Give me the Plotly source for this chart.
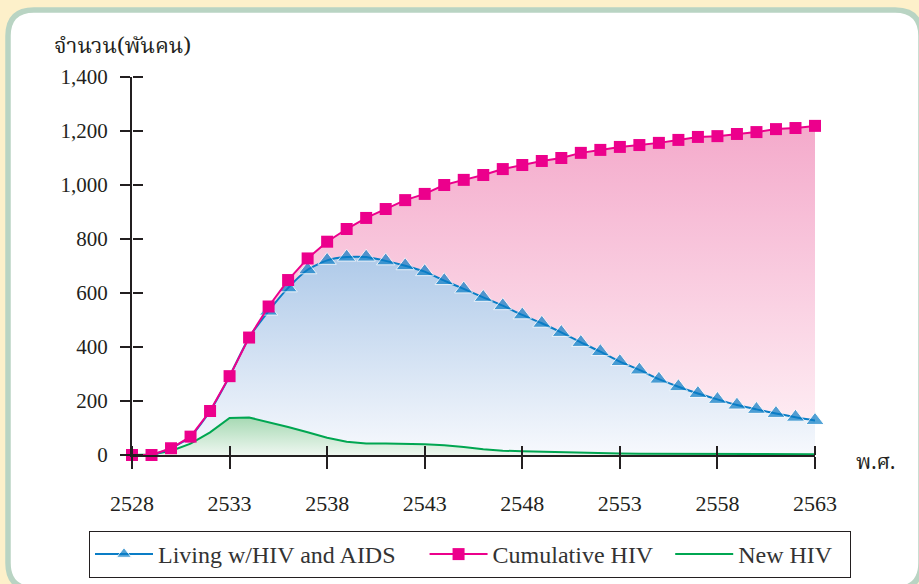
import plotly.graph_objects as go

years = list(range(2528, 2564))

cumulative_hiv = [0, 0, 25, 68, 163, 292, 435, 550, 648, 728, 790, 837, 878, 911,
                  944, 967, 1000, 1019, 1037, 1059, 1074, 1089, 1100, 1119, 1130,
                  1141, 1148, 1156, 1167, 1178, 1181, 1189, 1196, 1207, 1211, 1219]

living_hiv_aids = [0, 0, 25, 68, 163, 292, 435, 533, 619, 686, 721, 733, 733, 719,
                   701, 679, 646, 615, 584, 553, 519, 488, 454, 417, 383, 346,
                   315, 281, 253, 228, 206, 185, 169, 154, 140, 128]

new_hiv = [0, 2, 15, 42, 84, 137, 139, 122, 104, 84, 64, 49, 43, 43, 42, 40, 36,
           30, 21, 16, 14, 12, 10, 8, 7, 6, 5, 5, 4, 4, 4, 3, 3, 3, 3, 3]

living_marker_start = 2535

x_tickvals = [2528, 2533, 2538, 2543, 2548, 2553, 2558, 2563]
y_tickvals = [0, 200, 400, 600, 800, 1000, 1200, 1400]
y_ticktext = ["0", "200", "400", "600", "800", "1,000", "1,200", "1,400"]

y_title = "จำนวน(พันคน)"
x_title = "พ.ศ."
legend_names = ["Living w/HIV and AIDS", "Cumulative HIV", "New HIV"]
NB = "\u00a0"
legend_pad = [4, 2, 2]

BLUE = "#0A7DC6"
PINK = "#EC008C"
GREEN = "#00A651"
TEXT = "#231F20"
SERIF = "Liberation Serif"
THAI = "Norasi, Noto Serif Thai, Noto Sans Thai, Loma, Garuda, Tlwg Typo, serif"

fig = go.Figure()

# fills (behind)
fig.add_trace(go.Scatter(
    x=years, y=cumulative_hiv, mode="none", fill="tozeroy",
    fillgradient=dict(type="vertical", start=0, stop=max(cumulative_hiv),
                      colorscale=[[0, "#FFF3F7"], [1, "#F4AACB"]]),
    showlegend=False, hoverinfo="skip"))
fig.add_trace(go.Scatter(
    x=years, y=living_hiv_aids, mode="none", fill="tozeroy",
    fillgradient=dict(type="vertical", start=0, stop=max(living_hiv_aids),
                      colorscale=[[0, "#F7F9FD"], [1, "#AFCAE9"]]),
    showlegend=False, hoverinfo="skip"))
fig.add_trace(go.Scatter(
    x=years, y=new_hiv, mode="none", fill="tozeroy",
    fillgradient=dict(type="vertical", start=0, stop=max(new_hiv),
                      colorscale=[[0, "#EEF7F0"], [1, "#A6D9B3"]]),
    showlegend=False, hoverinfo="skip"))

# lines
fig.add_trace(go.Scatter(
    x=years, y=new_hiv, mode="lines", name=legend_names[2] + NB * legend_pad[2],
    line=dict(color=GREEN, width=2), cliponaxis=False, legendrank=3))
living_sizes = [16 if y >= living_marker_start else 0 for y in years]
fig.add_trace(go.Scatter(
    x=years, y=living_hiv_aids, mode="lines+markers",
    name=legend_names[0] + NB * legend_pad[0],
    line=dict(color=BLUE, width=2, shape="spline", smoothing=0.6),
    marker=dict(symbol="triangle-up", size=living_sizes, color=BLUE),
    cliponaxis=False, legendrank=1))
fig.add_trace(go.Scatter(
    x=years, y=cumulative_hiv, mode="lines+markers",
    name=legend_names[1] + NB * legend_pad[1],
    line=dict(color=PINK, width=2),
    marker=dict(symbol="square", size=12, color=PINK),
    cliponaxis=False, legendrank=2))

# invisible trace for the extra axes (inner half of the crossing ticks)
fig.add_trace(go.Scatter(x=[2528], y=[0], xaxis="x2", yaxis="y2", mode="markers",
                         marker=dict(opacity=0), showlegend=False,
                         hoverinfo="skip"))

L, T = 132, 77
W, H = 683, 378
FW, FH = 919, 584


def px(xp):
    return (xp - L) / W


def py(yp):
    return (T + H - yp) / H


# rounded frame
x0, x1, y0, y1, r = 8, 921, 10, 589, 26
path = (f"M {px(x0)},{py(y0 + r)} "
        f"Q {px(x0)},{py(y0)} {px(x0 + r)},{py(y0)} "
        f"L {px(x1 - r)},{py(y0)} "
        f"Q {px(x1)},{py(y0)} {px(x1)},{py(y0 + r)} "
        f"L {px(x1)},{py(y1 - r)} "
        f"Q {px(x1)},{py(y1)} {px(x1 - r)},{py(y1)} "
        f"L {px(x0 + r)},{py(y1)} "
        f"Q {px(x0)},{py(y1)} {px(x0)},{py(y1 - r)} Z")
fig.add_shape(type="path", path=path, xref="paper", yref="paper",
              line=dict(color="#B9D4C3", width=5.5), fillcolor="white",
              layer="below")

axis_common = dict(showgrid=False, zeroline=False, automargin=False)
fig.update_layout(
    width=FW, height=FH,
    margin=dict(l=L, r=FW - L - W, t=T, b=FH - T - H, autoexpand=False),
    paper_bgcolor="#FDF0CA",
    plot_bgcolor="rgba(0,0,0,0)",
    font=dict(family=SERIF, color=TEXT),
    xaxis=dict(range=[2528, 2563], tickvals=x_tickvals,
               showline=True, linecolor="#231F20", linewidth=2,
               ticks="outside", ticklen=12, tickwidth=2, tickcolor="#231F20",
               tickfont=dict(size=22, family=SERIF, color=TEXT),
               ticklabelstandoff=16, **axis_common),
    yaxis=dict(range=[0, 1400], tickvals=y_tickvals, ticktext=y_ticktext,
               showline=True, linecolor="#231F20", linewidth=2,
               ticks="outside", ticklen=10, tickwidth=2, tickcolor="#231F20",
               tickfont=dict(size=21, family=SERIF, color=TEXT),
               ticklabelstandoff=8, **axis_common),
    xaxis2=dict(range=[2528, 2563], tickvals=x_tickvals, overlaying="x",
                anchor="free", position=0, side="top", ticks="outside",
                ticklen=9, tickwidth=2, tickcolor="#231F20",
                showticklabels=False, showline=False, **axis_common),
    yaxis2=dict(range=[0, 1400], tickvals=y_tickvals, overlaying="y",
                anchor="free", position=0, side="right", ticks="outside",
                ticklen=10, tickwidth=2, tickcolor="#231F20",
                showticklabels=False, showline=False, **axis_common),
    legend=dict(orientation="h", x=px(89), y=py(531), xanchor="left",
                yanchor="top", bordercolor="#231F20", borderwidth=1,
                bgcolor="white", font=dict(size=24, family=SERIF, color="#333"),
                traceorder="normal", itemwidth=58),
    showlegend=True,
    annotations=[
        dict(text=y_title, x=px(52), y=py(48), xref="paper", yref="paper",
             xanchor="left", yanchor="middle", showarrow=False,
             font=dict(size=22, family=THAI, color=TEXT)),
        dict(text=x_title, x=px(854), y=py(463), xref="paper", yref="paper",
             xanchor="left", yanchor="middle", showarrow=False,
             font=dict(size=21, family=THAI, color=TEXT)),
    ],
)

fig.write_html("out.html", config={"displayModeBar": False},
               post_script="document.body.style.margin='0px';")
